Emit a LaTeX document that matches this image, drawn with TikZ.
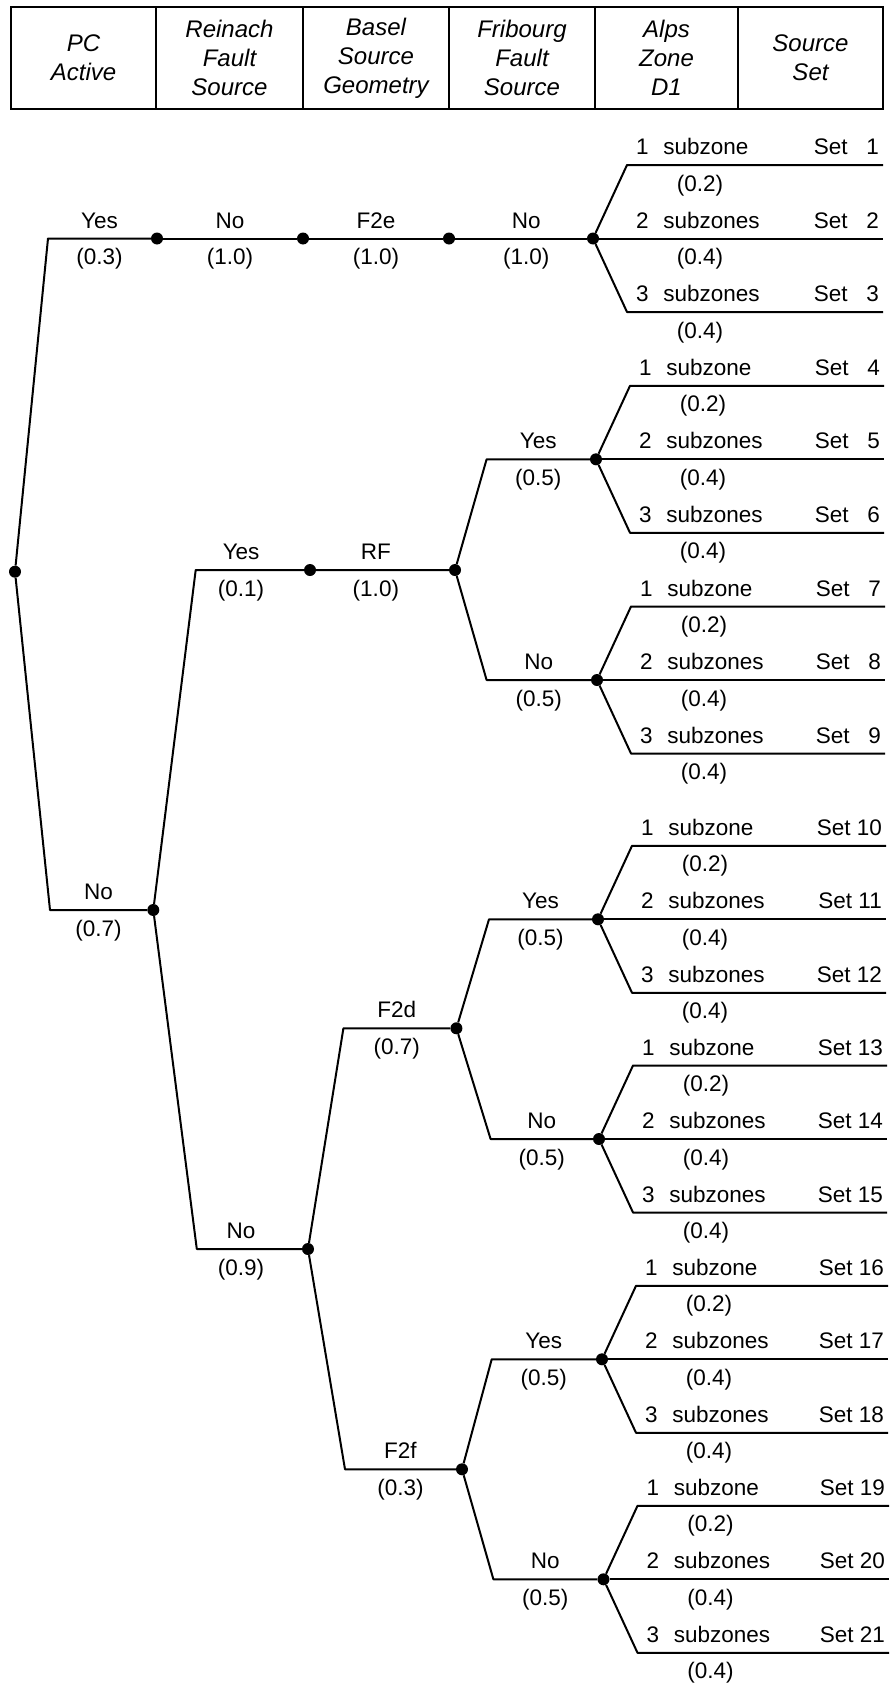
\documentclass[tikz,border=0pt]{standalone}
\usepackage{fontspec}
\setmainfont{Liberation Sans}
\tikzset{
    treedot/.style={circle, fill=black, inner sep=0pt, minimum size=12pt},
    branch/.style={line width=2pt, line join=round},
    hcell/.style={draw, line width=2.2pt, inner sep=0pt, minimum height=102pt, align=center, font=\fontsize{24}{29}\selectfont\itshape},
    lab/.style={inner sep=0pt, font=\fontsize{22.5}{27}\selectfont},
    toplab/.style={lab, anchor=base, yshift=10.5pt},
    botlab/.style={lab, anchor=base, yshift=-26pt},
}
\begin{document}
\begin{tikzpicture}[x=1pt, y=-1pt]
    \useasboundingbox (0,0) rectangle (890,1683);
    % Header
    \node[hcell, minimum width=145pt] (hpc) at (83.5,58) {PC\\Active};
    \node[hcell, minimum width=147pt] (hrf) at (229.5,58) {Reinach\\Fault\\Source};
    \node[hcell, minimum width=146pt] (hbs) at (376,58) {Basel\\Source\\Geometry};
    \node[hcell, minimum width=146pt] (hff) at (522,58) {Fribourg\\Fault\\Source};
    \node[hcell, minimum width=143pt] (hal) at (666.5,58) {Alps\\Zone\\D1};
    \node[hcell, minimum width=145pt] (hss) at (810.5,58) {Source\\Set};
    % Dots
    \node[treedot] (root) at (15,571.7) {};
    \node[treedot] (d1) at (157,238.5) {};
    \node[treedot] (d2) at (303,238.5) {};
    \node[treedot] (d3) at (449,238.5) {};
    \node[treedot] (d4) at (593,238.5) {};
    \node[treedot] (d5) at (153.3,910) {};
    \node[treedot] (d6) at (310,570) {};
    \node[treedot] (d7) at (455,570) {};
    \node[treedot] (d8) at (596,459.3) {};
    \node[treedot] (d9) at (597,680) {};
    \node[treedot] (d10) at (308,1249) {};
    \node[treedot] (d11) at (456.4,1028.3) {};
    \node[treedot] (d12) at (462,1469.3) {};
    \node[treedot] (d13) at (598,919.3) {};
    \node[treedot] (d14) at (599,1139) {};
    \node[treedot] (d15) at (602,1359.3) {};
    \node[treedot] (d16) at (603.5,1579.3) {};
    % Corners
    \coordinate (yes1) at (48,238.5);
    \coordinate (no1) at (50,910);
    \coordinate (yes2) at (195.7,570);
    \coordinate (no2) at (196.8,1249);
    \coordinate (yes3) at (486.6,459.3);
    \coordinate (no3) at (486.6,680);
    \coordinate (f2d) at (343.4,1028.3);
    \coordinate (f2f) at (345,1469.3);
    \coordinate (yes4) at (489,919.3);
    \coordinate (no4) at (490.6,1139);
    \coordinate (yes5) at (491.7,1359.3);
    \coordinate (no5) at (493.4,1579.3);
    % PC active
    \draw[branch] (root) -- (yes1) -- node[toplab] (l1) {Yes} node[botlab] (p1) {(0.3)} (d1);
    \draw[branch] (root) -- (no1) -- node[toplab] (l2) {No} node[botlab] (p2) {(0.7)} (d5);
    % Upper path
    \draw[branch] (d1) -- node[toplab] (l3) {No} node[botlab] (p3) {(1.0)} (d2)
        -- node[toplab] (l4) {F2e} node[botlab] (p4) {(1.0)} (d3)
        -- node[toplab, pos=0.54] (l5) {No} node[botlab, pos=0.54] (p5) {(1.0)} (d4);
    % Reinach fault
    \draw[branch] (d5) -- (yes2) -- node[toplab, pos=0.42] (l6) {Yes} node[botlab, pos=0.42] (p6) {(0.1)} (d6)
        -- node[toplab, pos=0.45] (l7) {RF} node[botlab, pos=0.45] (p7) {(1.0)} (d7);
    \draw[branch] (d5) -- (no2) -- node[toplab, pos=0.42] (l8) {No} node[botlab, pos=0.42] (p8) {(0.9)} (d10);
    \draw[branch] (d7) -- (yes3) -- node[toplab] (l9) {Yes} node[botlab] (p9) {(0.5)} (d8);
    \draw[branch] (d7) -- (no3) -- node[toplab] (l10) {No} node[botlab] (p10) {(0.5)} (d9);
    % Basel geometry
    \draw[branch] (d10) -- (f2d) -- node[toplab] (l11) {F2d} node[botlab] (p11) {(0.7)} (d11);
    \draw[branch] (d10) -- (f2f) -- node[toplab] (l12) {F2f} node[botlab] (p12) {(0.3)} (d12);
    % Fribourg fault
    \draw[branch] (d11) -- (yes4) -- node[toplab] (l13) {Yes} node[botlab] (p13) {(0.5)} (d13);
    \draw[branch] (d11) -- (no4) -- node[toplab] (l14) {No} node[botlab] (p14) {(0.5)} (d14);
    \draw[branch] (d12) -- (yes5) -- node[toplab] (l15) {Yes} node[botlab] (p15) {(0.5)} (d15);
    \draw[branch] (d12) -- (no5) -- node[toplab] (l16) {No} node[botlab] (p16) {(0.5)} (d16);
    % Alps zones and source sets
    \foreach \f/\x/\y/\ex [count=\i from 0] in {d4/593/238.5/883, d8/596/459.3/884, d9/597/680/885, d13/598/919.3/886, d14/599/1139/887, d15/602/1359.3/888, d16/603.5/1579.3/889}{
        \foreach \k/\dy/\pr/\zw in {1/-73.5/0.2/subzone, 2/0/0.4/subzones, 3/73.5/0.4/subzones}{
            \pgfmathsetmacro{\ly}{\y+(\dy)}
            \pgfmathsetmacro{\sx}{\x+34}
            \pgfmathtruncatemacro{\setno}{3*\i+\k}
            \coordinate (\f-s\k) at (\sx,\ly);
            \coordinate (\f-e\k) at (\ex,\ly);
            \draw[branch] (\f) -- (\f-s\k) -- (\f-e\k);
            \node[toplab, anchor=base west, xshift=9pt] (\f-z\k) at (\f-s\k) {\k\hspace{0.65em}\zw};
            \node[toplab, anchor=base east, xshift=-4pt] (\f-n\k) at (\f-e\k) {Set~\ifnum\setno<10 \hphantom{0}\fi\setno};
            \node[botlab, xshift=73pt] (\f-p\k) at (\f-s\k) {(\pr)};
        }
    }
\end{tikzpicture}
\end{document}
